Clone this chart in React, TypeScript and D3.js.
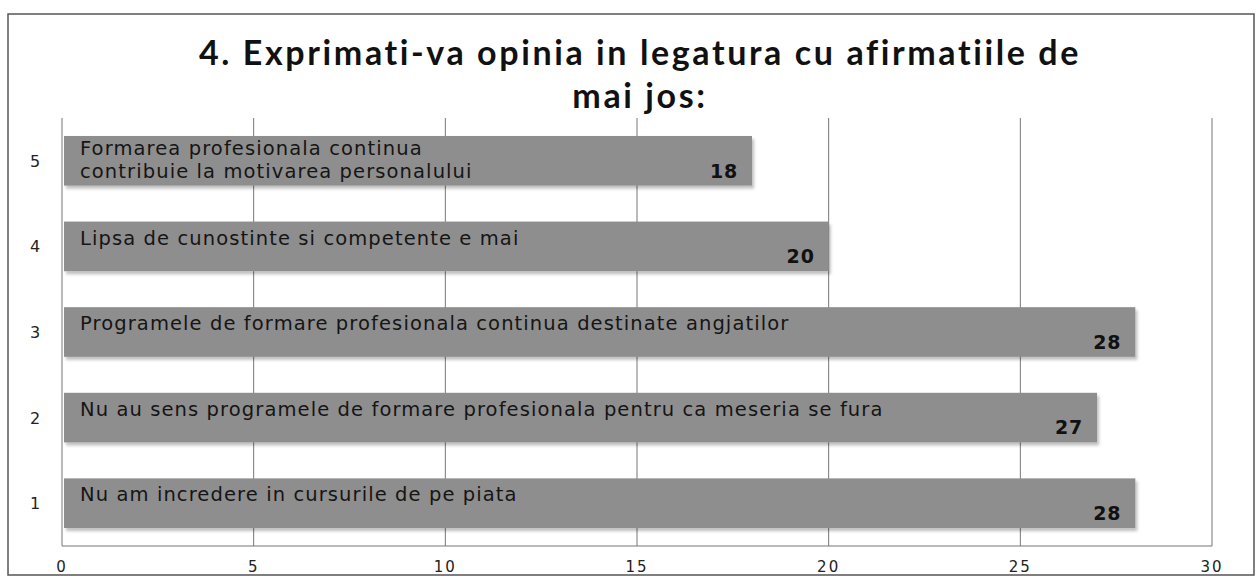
import * as d3 from 'd3';

const categories = ['1', '2', '3', '4', '5'];
const values = [28, 27, 28, 20, 18];
const barLabels = [
  ['Nu am incredere in cursurile de pe piata'],
  ['Nu au sens programele de formare profesionala pentru ca meseria se fura'],
  ['Programele de formare profesionala continua destinate angjatilor'],
  ['Lipsa de cunostinte si competente e mai'],
  ['Formarea profesionala continua', 'contribuie la motivarea personalului'],
];
const xTicks = [0, 5, 10, 15, 20, 25, 30];
const titleLines = ['4. Exprimati-va opinia in legatura cu afirmatiile de', 'mai jos:'];

export default function App() {
  const W = 1258;
  const H = 585;
  const plot = { left: 62, right: 1212, top: 118, bottom: 546 };

  const x = d3.scaleLinear().domain([0, 30]).range([plot.left, plot.right]);
  const y = d3
    .scaleBand<string>()
    .domain([...categories].reverse())
    .range([plot.top, plot.bottom])
    .paddingInner(0.42)
    .paddingOuter(0.21);

  const textFont = '"DejaVu Sans", Verdana, sans-serif';

  return (
    <svg
      width={W}
      height={H}
      style={{ position: 'absolute', left: 0, top: 0, background: '#fff' }}
    >
      <defs>
        <filter id="shadow" x="-5%" y="-20%" width="110%" height="160%">
          <feDropShadow dx="2" dy="3" stdDeviation="1.5" floodColor="#000" floodOpacity="0.25" />
        </filter>
      </defs>

      {/* outer frame */}
      <rect x={8} y={14} width={1246} height={561} fill="none" stroke="#555" strokeWidth={1.5} />

      {/* title */}
      {titleLines.map((t, i) => (
        <text
          key={i}
          x={640}
          y={65 + i * 43}
          textAnchor="middle"
          fontFamily="Lato, sans-serif"
          fontWeight="bold"
          fontSize={34}
          letterSpacing={2.6}
          fill="#111"
        >
          {t}
        </text>
      ))}

      {/* grid lines */}
      {xTicks.slice(1).map((t) => (
        <line key={t} x1={x(t)} x2={x(t)} y1={plot.top} y2={plot.bottom} stroke="#777" strokeWidth={1} />
      ))}
      <line x1={plot.left} x2={plot.left} y1={plot.top} y2={plot.bottom} stroke="#777" />
      <line x1={plot.left} x2={plot.right} y1={plot.bottom} y2={plot.bottom} stroke="#777" />

      {/* bars */}
      {categories.map((c, i) => {
        const y0 = y(c) as number;
        const bw = y.bandwidth();
        const x1 = x(values[i]);
        const lines = barLabels[i];
        return (
          <g key={c}>
            <rect
              x={x(0) + 2}
              y={y0}
              width={x1 - x(0) - 2}
              height={bw}
              fill="#8e8e8e"
              filter="url(#shadow)"
            />
            {lines.map((l, j) => (
              <text
                key={j}
                x={x(0) + 18}
                y={y0 + (lines.length > 1 ? 19 + j * 23 : 23)}
                fontFamily={textFont}
                fontSize={19.5}
                letterSpacing={1.1}
                fill="#151515"
              >
                {l}
              </text>
            ))}
            <text
              x={x1 - 14}
              y={y0 + bw - 8}
              textAnchor="end"
              fontFamily={textFont}
              fontWeight="bold"
              fontSize={19}
              letterSpacing={0.8}
              fill="#111"
            >
              {values[i]}
            </text>
            <text
              x={35}
              y={y0 + bw / 2 + 6}
              textAnchor="middle"
              fontFamily={textFont}
              fontSize={16}
              fill="#222"
            >
              {c}
            </text>
          </g>
        );
      })}

      {/* x axis labels */}
      {xTicks.map((t) => (
        <text
          key={t}
          x={x(t)}
          y={572}
          textAnchor="middle"
          fontFamily={textFont}
          fontSize={15}
          letterSpacing={2}
          fill="#222"
        >
          {t}
        </text>
      ))}
    </svg>
  );
}
